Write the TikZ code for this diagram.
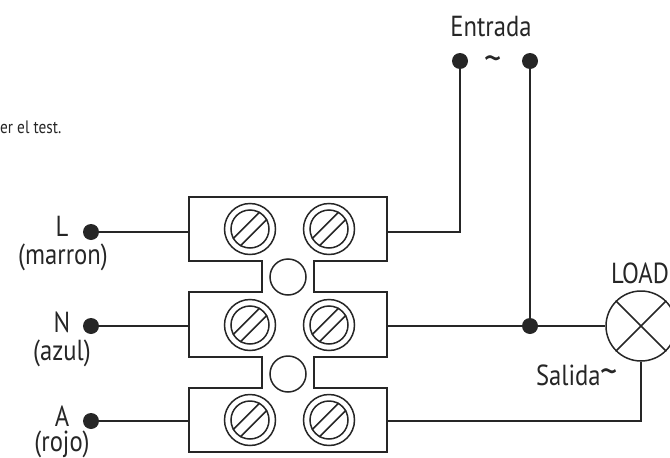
\documentclass[tikz,border=0pt]{standalone}
\usepackage{fontspec}
\setmainfont[FakeStretch=0.85]{PT Sans}
\usetikzlibrary{shapes}
\tikzset{
	wire/.style={line width=1.5pt,color=black!85},
	dot/.style={circle,fill=black!85,inner sep=0pt,minimum size=16pt},
	lbl/.style={inner sep=0pt,font=\fontsize{29}{29}\selectfont,color=black!85},
	bridge/.style={circle,draw=black!85,line width=1.5pt,inner sep=0pt,minimum size=36pt},
	screwout/.style={circle,draw=black!85,line width=1.5pt,inner sep=0pt,minimum size=51pt},
	screwin/.style={circle,draw=black!85,line width=1.5pt,inner sep=0pt,minimum size=38pt},
	lamp/.style={circle,draw=black!85,line width=1.5pt,inner sep=0pt,minimum size=70pt}
}
\newcommand{\bigtilde}{{\fontsize{40}{40}\selectfont\char`~}}
\begin{document}
\begin{tikzpicture}[x=1pt,y=-1pt]
	\useasboundingbox (0,0) rectangle (670,458);
	% terminal block
	\draw[wire] (189,197) -- (387,197) -- (387,261) -- (314,261) -- (314,292) -- (387,292)
	-- (387,357) -- (314,357) -- (314,388) -- (387,388) -- (387,452) -- (189,452) -- (189,388)
	-- (262,388) -- (262,357) -- (189,357) -- (189,292) -- (262,292) -- (262,261) -- (189,261) -- cycle;
	\node[bridge] (bridge1) at (288,277) {};
	\node[bridge] (bridge2) at (288,374) {};
	\foreach \name/\x/\y in {a1/250/229,b1/329/229,a2/250/325,b2/329/325,a3/250/420,b3/329/420}
	{
		\node[screwout] (out\name) at (\x,\y) {};
		\node[screwin] (in\name) at (\x,\y) {};
		\draw[wire] (in\name.60) -- (in\name.210);
		\draw[wire] (in\name.30) -- (in\name.240);
	}
	\coordinate (blockL) at (189,232);
	\coordinate (blockN) at (189,326);
	\coordinate (blockA) at (189,421);
	\coordinate (blockR1) at (387,232);
	\coordinate (blockR2) at (387,326);
	\coordinate (blockR3) at (387,421);
	% terminals
	\node[dot] (dotL) at (91,232) {};
	\node[dot] (dotN) at (91,326) {};
	\node[dot] (dotA) at (91,421) {};
	\node[dot] (dotE1) at (460,61) {};
	\node[dot] (dotE2) at (530,61) {};
	\node[dot] (join) at (530,326) {};
	\node[lamp] (load) at (641,326) {};
	% wires
	\draw[wire] (dotL) -- (blockL);
	\draw[wire] (dotN) -- (blockN);
	\draw[wire] (dotA) -- (blockA);
	\draw[wire] (dotE1) |- (blockR1);
	\draw[wire] (dotE2) -- (join);
	\draw[wire] (blockR2) -- (join) -- (load);
	\draw[wire] (blockR3) -| (load);
	\draw[wire] (load.45) -- (load.225);
	\draw[wire] (load.135) -- (load.315);
	% labels
	\node[lbl] (txtL) at (62,226) {L};
	\node[lbl] (txtMarron) at (63,257) {(marron)};
	\node[lbl] (txtN) at (62,322) {N};
	\node[lbl] (txtAzul) at (62,353) {(azul)};
	\node[lbl] (txtA) at (62,416) {A};
	\node[lbl] (txtRojo) at (62,444) {(rojo)};
	\node[lbl] (txtEntrada) at (491,27) {Entrada};
	\node[lbl] (txtTilde) at (493,64) {\bigtilde};
	\node[lbl] (txtLoad) at (640,273) {LOAD};
	\node[lbl] (txtSalida) at (577,375) {Salida\bigtilde};
	\node[lbl,anchor=west,font=\fontsize{18}{18}\selectfont] (txtTest) at (0,127) {er el test.};
\end{tikzpicture}
\end{document}
